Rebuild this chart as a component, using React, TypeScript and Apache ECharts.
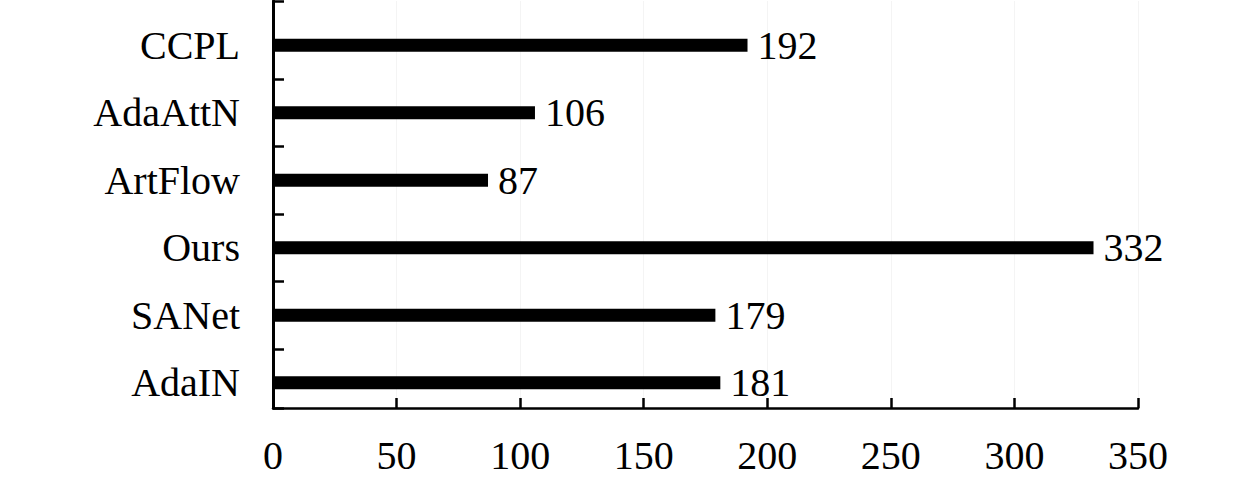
import React, { useEffect, useRef } from "react";
import * as echarts from "echarts";

// Categories listed bottom-to-top (ECharts category y axis starts at the bottom)
const categories = ["AdaIN", "SANet", "Ours", "ArtFlow", "AdaAttN", "CCPL"];
const values = [181, 179, 332, 87, 106, 192];
const xMin = 0;
const xMax = 350;
const xStep = 50;
// Frame axis (spans the visible plot frame) in band units; tick marks between categories
const frameMin = 0.126;
const frameMax = 6.156;
const frameTicks = [frameMin, 1, 2, 3, 4, 5, frameMax];

const FONT = "'Liberation Serif', 'Times New Roman', Times, serif";

export default function App() {
  const ref = useRef<HTMLDivElement>(null);
  useEffect(() => {
    if (!ref.current) return;
    const chart = echarts.init(ref.current, undefined, { renderer: "svg" });
    chart.setOption({
      animation: false,
      backgroundColor: "#ffffff",
      grid: [
        { left: 273, right: 122, top: 11.5, height: 405, containLabel: false },
        { left: 273, right: 122, top: 1, height: 407, containLabel: false },
      ],
      xAxis: [
        {
          gridIndex: 0,
          type: "value",
          min: xMin,
          max: xMax,
          interval: xStep,
          show: false,
        },
        {
          gridIndex: 1,
          type: "value",
          min: xMin,
          max: xMax,
          interval: xStep,
          axisLine: { show: true, lineStyle: { color: "#000", width: 2.5 } },
          axisTick: { show: true, inside: true, length: 10, lineStyle: { color: "#000", width: 2.5 } },
          axisLabel: { color: "#000", fontSize: 40, fontFamily: FONT, margin: 27 },
          splitLine: { show: true, lineStyle: { color: "#f4f4f4", width: 1 } },
        },
      ],
      yAxis: [
        {
          gridIndex: 0,
          type: "category",
          data: categories,
          axisLine: { show: false },
          axisTick: { show: false },
          axisLabel: { color: "#000", fontSize: 40, fontFamily: FONT, margin: 33 },
          splitLine: { show: false },
        },
        {
          gridIndex: 1,
          type: "value",
          min: frameMin,
          max: frameMax,
          axisLine: { show: true, lineStyle: { color: "#000", width: 3 } },
          axisTick: {
            show: true,
            inside: true,
            length: 11,
            customValues: frameTicks,
            lineStyle: { color: "#000", width: 2.5 },
          },
          axisLabel: { show: false },
          splitLine: { show: false },
        },
      ],
      series: [
        {
          type: "bar",
          xAxisIndex: 0,
          yAxisIndex: 0,
          data: values,
          barWidth: 13,
          itemStyle: { color: "#000" },
          label: {
            show: true,
            position: "right",
            distance: 10,
            color: "#000",
            fontSize: 40,
            fontFamily: FONT,
          },
        },
      ],
    });
    return () => chart.dispose();
  }, []);
  return (
    <div
      ref={ref}
      style={{ position: "absolute", left: 0, top: 0, width: 1260, height: 483 }}
    />
  );
}
